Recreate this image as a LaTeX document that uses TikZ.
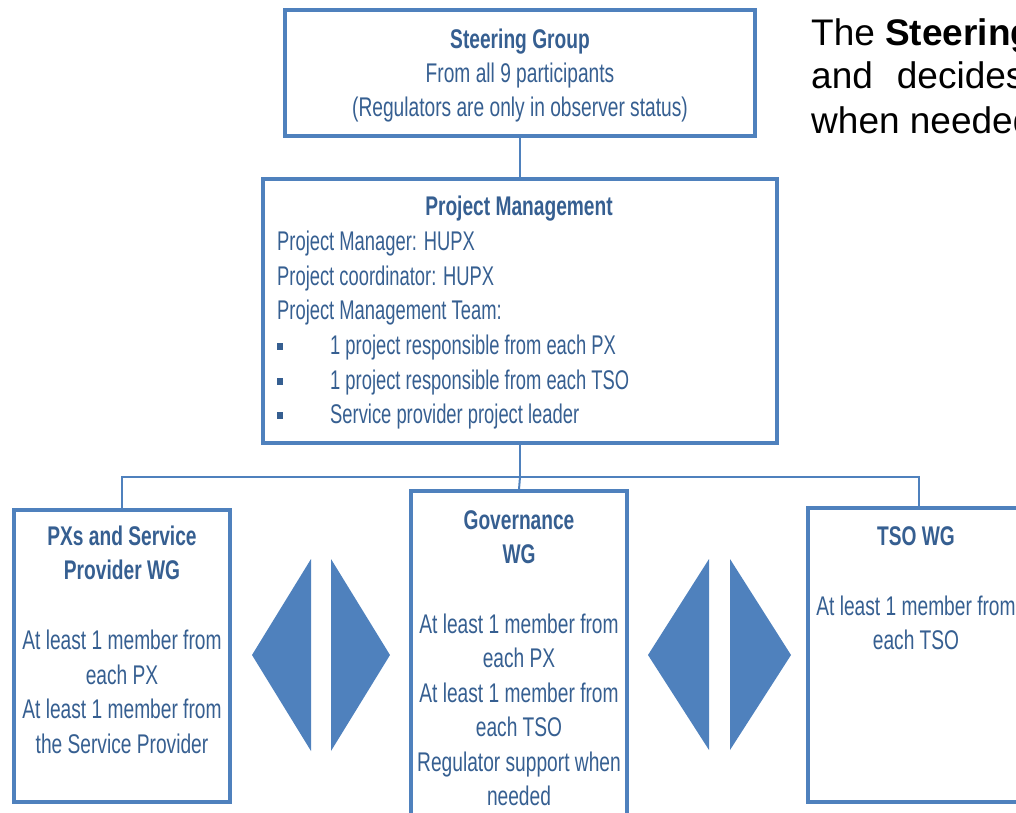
\documentclass[tikz,border=0pt]{standalone}
\usepackage{fontspec}
\setmainfont{Liberation Sans}
\newfontfamily\narrowfont[FakeStretch=0.71]{Liberation Sans}
\newfontfamily\listfont[FakeStretch=0.68]{Liberation Sans}
\definecolor{boxblue}{HTML}{4F81BD}
\definecolor{txtblue}{HTML}{365F91}
\tikzset{
  orgbox/.style={draw=boxblue, line width=3.5pt, fill=white, inner sep=0pt},
  link/.style={draw=boxblue, line width=2pt},
  boxtext/.style={text=txtblue, font=\narrowfont\fontsize{27}{34.5}\selectfont, inner sep=0pt, align=center},
  boxtitle/.style={boxtext, font=\narrowfont\bfseries\fontsize{27}{34.5}\selectfont},
  listtext/.style={text=txtblue, font=\listfont\fontsize{27}{34.5}\selectfont, inner sep=0pt, anchor=base west},
  arrowhalf/.style={fill=boxblue, draw=none},
  sidetext/.style={text=black, font=\fontsize{37}{44}\selectfont, inner sep=0pt, anchor=base west}
}
\begin{document}
\begin{tikzpicture}[x=1pt,y=-1pt]
\useasboundingbox (0,0) rectangle (1016,812);
\begin{scope}
\clip (0,0) rectangle (1016,812);

% boxes
\node[orgbox, minimum width=470, minimum height=126] (sg) at (520,73) {};
\node[orgbox, minimum width=514, minimum height=264] (pm) at (520,311) {};
\node[orgbox, minimum width=216, minimum height=292] (px) at (122,656) {};
\node[orgbox, minimum width=216, minimum height=340] (gov) at (519,661) {};
\node[orgbox, minimum width=222, minimum height=294] (tso) at (919,655) {};

% connectors
\coordinate (bus) at (520,477);
\draw[link] (sg.south) -- (pm.north);
\draw[link] (pm.south) -- (bus);
\draw[link] (px.north) |- (bus) -| (tso.north);
\draw[link] (bus) -- (gov.north);

% steering group text
\node[boxtitle] (sgt) at (520,42) {Steering Group};
\node[boxtext] (sgl1) at (520,76) {From all 9 participants};
\node[boxtext] (sgl2) at (520,110) {(Regulators are only in observer status)};

% project management text
\node[boxtitle] (pmt) at (519,209) {Project Management};
\node[listtext] (pm1) at (277,250) {Project Manager: HUPX};
\node[listtext] (pm2) at (277,285) {Project coordinator: HUPX};
\node[listtext] (pm3) at (277,319) {Project Management Team:};
\foreach \yy/\txt [count=\i] in {346/1 project responsible from each PX,
                                 381/1 project responsible from each TSO,
                                 415/Service provider project leader}{
  \fill[txtblue] (277,\yy-3.5) rectangle (283,\yy+3.5);
  \node[listtext] (pmb\i) at (330,\yy+8) {\txt};
}

% PXs and service provider WG
\node[boxtitle] (pxt) at (122,553) {PXs and Service\\Provider WG};
\node[boxtext] (pxb) at (122,692) {At least 1 member from\\each PX\\At least 1 member from\\the Service Provider};

% governance WG
\node[boxtitle] (govt) at (519,537) {Governance\\WG};
\node[boxtext] (govb) at (519,710) {At least 1 member from\\each PX\\At least 1 member from\\each TSO\\Regulator support when\\needed};

% TSO WG
\node[boxtitle] (tsot) at (916,536) {TSO WG};
\node[boxtext] (tsob) at (916,623) {At least 1 member from\\each TSO};

% double arrows between the working groups
\fill[arrowhalf] (252,655) -- (311,559) -- (311,751) -- cycle;
\fill[arrowhalf] (331,559) -- (390,655) -- (331,751) -- cycle;
\fill[arrowhalf] (648,655) -- (709,559) -- (709,750) -- cycle;
\fill[arrowhalf] (730,559) -- (791,655) -- (730,750) -- cycle;

% explanatory text at the side
\node[sidetext] (s1) at (811,45) {The \textbf{Steering}};
\node[sidetext] (s2) at (811,88) {and\hspace{24pt}decides};
\node[sidetext] (s3) at (811,133) {when needed};
\end{scope}
\end{tikzpicture}
\end{document}
